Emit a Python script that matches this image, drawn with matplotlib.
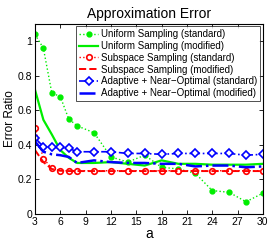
import matplotlib
matplotlib.use("Agg")
import matplotlib.pyplot as plt

plt.rcParams['font.family'] = ['Liberation Sans', 'DejaVu Sans']

# === DATA ===
a_vals = [3, 4, 5, 6, 7, 8, 10, 12, 14, 16, 18, 20, 22, 24, 26, 28, 30]

uniform_std = [1.04, 0.96, 0.70, 0.68, 0.55, 0.51, 0.47, 0.33, 0.30, 0.34, 0.27, 0.26, 0.235, 0.135, 0.125, 0.07, 0.12]
uniform_mod = [0.72, 0.545, 0.46, 0.37, 0.325, 0.295, 0.295, 0.30, 0.29, 0.28, 0.31, 0.29, 0.29, 0.285, 0.285, 0.285, 0.29]
subspace_std = [0.50, 0.32, 0.265, 0.25, 0.25, 0.25, 0.25, 0.25, 0.25, 0.25, 0.25, 0.25, 0.25, 0.25, 0.25, 0.25, 0.25]
subspace_mod = [0.37, 0.30, 0.26, 0.25, 0.248, 0.248, 0.248, 0.248, 0.248, 0.248, 0.248, 0.248, 0.248, 0.248, 0.248, 0.248, 0.248]
adaptive_std = [0.44, 0.39, 0.385, 0.385, 0.38, 0.36, 0.36, 0.36, 0.35, 0.35, 0.345, 0.35, 0.35, 0.35, 0.35, 0.34, 0.345]
adaptive_mod = [0.42, 0.36, 0.345, 0.34, 0.33, 0.295, 0.31, 0.30, 0.295, 0.295, 0.29, 0.29, 0.275, 0.28, 0.28, 0.27, 0.275]

x_ticks = [3, 6, 9, 12, 15, 18, 21, 24, 27, 30]
y_ticks = [0, 0.2, 0.4, 0.6, 0.8, 1]
y_tick_labels = ["0", "0.2", "0.4", "0.6", "0.8", "1"]

# === PLOT ===
fig = plt.figure(figsize=(2.73, 2.45), dpi=100)
ax = fig.add_axes([0.128, 0.127, 0.835, 0.775])

green = '#00ee00'
ax.plot(a_vals, uniform_std, ':', color=green, lw=1, marker='o', ms=3.5,
        mfc=green, mec=green, label='Uniform Sampling (standard)')
ax.plot(a_vals, uniform_mod, '-', color=green, lw=1.6, label='Uniform Sampling (modified)')
ax.plot(a_vals, subspace_std, ':', color='red', lw=1, marker='o', ms=4,
        mfc='white', mec='red', mew=1.2, label='Subspace Sampling (standard)')
ax.plot(a_vals, subspace_mod, '--', color='red', lw=1.4, label='Subspace Sampling (modified)')
ax.plot(a_vals, adaptive_std, '-.', color='blue', lw=1.2, marker='D', ms=4,
        mfc='white', mec='blue', mew=1.2, label='Adaptive + Near\u2212Optimal (standard)')
ax.plot(a_vals, adaptive_mod, '-.', color='blue', lw=1.8, label='Adaptive + Near\u2212Optimal (modified)')

ax.set_xlim(3, 30)
ax.set_ylim(0, 1.1)
ax.set_xticks(x_ticks)
ax.set_yticks(y_ticks)
ax.set_yticklabels(y_tick_labels)
ax.tick_params(direction='in', top=True, right=True, labelsize=7.5, length=3, width=0.6, pad=2)
for s in ax.spines.values():
    s.set_linewidth(0.8)

ax.set_title('Approximation Error', fontsize=10, pad=4)
ax.set_xlabel('a', fontsize=10, labelpad=0)
ax.set_ylabel('Error Ratio', fontsize=8.5, labelpad=1)

leg = ax.legend(loc='upper right', fontsize=7, frameon=True, fancybox=False,
                edgecolor='black', handlelength=2.0, handletextpad=0.3,
                labelspacing=0.18, borderpad=0.3, borderaxespad=0.25)
leg.get_frame().set_linewidth(0.6)

fig.savefig('out.png', dpi=100)
